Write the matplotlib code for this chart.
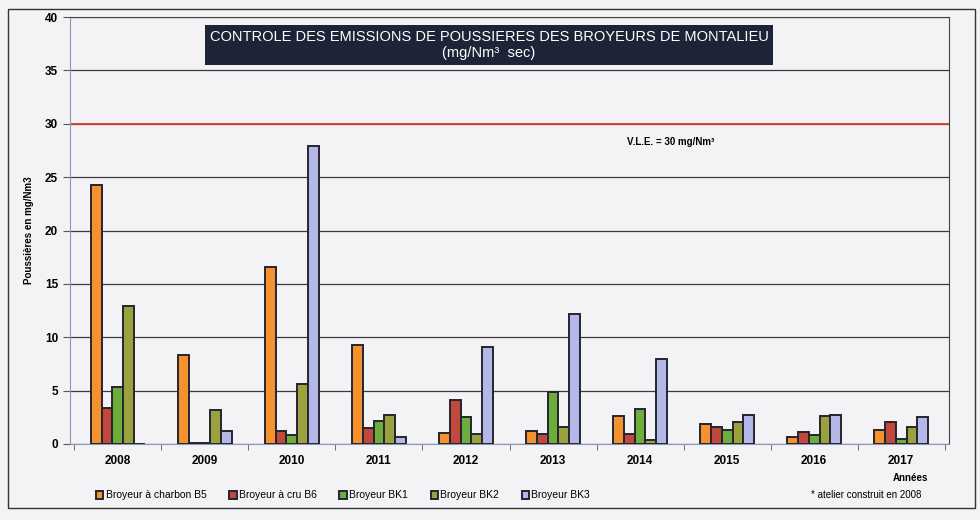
import numpy as np
import matplotlib.pyplot as plt
from matplotlib.patches import Rectangle

years = ['2008', '2009', '2010', '2011', '2012', '2013', '2014', '2015', '2016', '2017']
series_names = ['Broyeur à charbon B5', 'Broyeur à cru B6', 'Broyeur BK1', 'Broyeur BK2', 'Broyeur BK3']
b5 = [24.3, 8.3, 16.6, 9.3, 1.0, 1.2, 2.6, 1.9, 0.7, 1.3]
b6 = [3.4, 0.1, 1.2, 1.5, 4.1, 0.9, 0.9, 1.6, 1.1, 2.1]
bk1 = [5.3, 0.1, 0.8, 2.2, 2.5, 4.9, 3.3, 1.3, 0.8, 0.5]
bk2 = [12.9, 3.2, 5.6, 2.7, 0.9, 1.6, 0.4, 2.1, 2.6, 1.6]
bk3 = [0.0, 1.2, 27.9, 0.7, 9.1, 12.2, 8.0, 2.7, 2.7, 2.5]
vle = 30
colors = ['#f5922d', '#c0483c', '#6cad3c', '#9aa23e', '#b3b8e8']

plt.rcParams['font.family'] = ['Liberation Sans', 'DejaVu Sans']
bg = '#f3f2f5'
fig = plt.figure(figsize=(9.8, 5.2), dpi=100, facecolor=bg)
ax = fig.add_axes([70/980, 1-444/520, (949-70)/980, (444-17)/520])
ax.set_facecolor(bg)

# outer frame
fig.add_artist(Rectangle((8/980, 1-508/520), (975-8)/980, (508-9)/520, transform=fig.transFigure,
                         fill=False, edgecolor='#333333', lw=1.0))

x = np.arange(len(years))
w = 0.125
data = [b5, b6, bk1, bk2, bk3]
for i, vals in enumerate(data):
    ax.bar(x + (i - 2) * w, vals, w, color=colors[i], edgecolor='#252530', lw=1.4,
           label=series_names[i], zorder=3)

ax.axhline(vle, color='#e8342a', lw=1.3, zorder=2)
ax.text(6.35, 28.3, 'V.L.E. = 30 mg/Nm³', fontsize=7, fontweight='bold', ha='center', va='center')

ax.set_ylim(0, 40)
ax.set_xlim(-0.55, 9.55)
ax.set_yticks(np.arange(0, 41, 5))
ax.yaxis.grid(True, color='#3a3a3a', lw=0.9, zorder=0)
ax.set_xticks(x)
ax.set_xticklabels(years, fontsize=8.5, fontweight='bold')
ax.set_xticks(np.arange(-0.5, 10, 1), minor=True)
ax.tick_params(axis='x', which='major', length=0, pad=8)
ax.tick_params(axis='x', which='minor', length=4, direction='out', color='#555555')
ax.tick_params(axis='y', labelsize=8.5, length=5, color='#555555')
for lbl in ax.get_yticklabels():
    lbl.set_fontweight('bold')
for side in ['top', 'right']:
    ax.spines[side].set_color('#444444')
ax.spines['left'].set_color('#8899bb')
ax.spines['bottom'].set_color('#8899bb')
ax.set_ylabel('Poussières en mg/Nm3', fontsize=7, fontweight='bold', labelpad=8)

# title box
fig.text(489/980, 1-45/520, 'CONTROLE DES EMISSIONS DE POUSSIERES DES BROYEURS DE MONTALIEU\n(mg/Nm³  sec)',
         ha='center', va='center', color='white', fontsize=10.5, linespacing=1.25,
         bbox=dict(boxstyle='square,pad=0.3', facecolor='#1e2438', edgecolor='none'))

fig.text(910/980, 1-478/520, 'Années', fontsize=7, fontweight='bold', ha='center', va='center')
fig.text(866/980, 1-495/520, '* atelier construit en 2008', fontsize=7, ha='center', va='center')

ax.legend(loc='upper left', bbox_to_anchor=(92/980, 1-486/520), bbox_transform=fig.transFigure,
          ncol=5, frameon=False, fontsize=7.5, handlelength=0.7, handleheight=0.8,
          handletextpad=0.2, columnspacing=2.2, borderaxespad=0)

fig.savefig('out.png', dpi=100, facecolor=bg)
